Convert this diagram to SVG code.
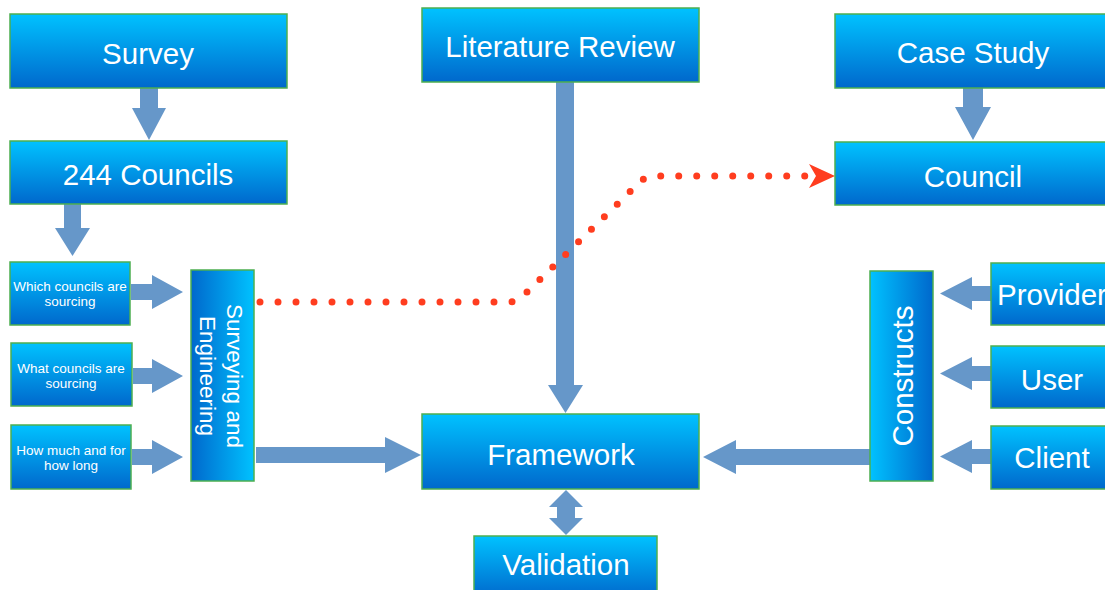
<svg xmlns="http://www.w3.org/2000/svg" width="1105" height="590" viewBox="0 0 1105 590">
<defs>
<linearGradient id="gv" x1="0" y1="0" x2="0" y2="1"><stop offset="0" stop-color="#00c2ff"/><stop offset="1" stop-color="#0068cc"/></linearGradient>
<linearGradient id="gl" x1="1" y1="0" x2="0" y2="0"><stop offset="0" stop-color="#00c2ff"/><stop offset="1" stop-color="#0068cc"/></linearGradient>
<linearGradient id="gr" x1="0" y1="0" x2="1" y2="0"><stop offset="0" stop-color="#00c2ff"/><stop offset="1" stop-color="#0068cc"/></linearGradient>
<marker id="redhead" viewBox="0 0 26 24" refX="26" refY="12" markerWidth="26" markerHeight="24" markerUnits="userSpaceOnUse" orient="auto"><polygon points="26,12 0,0 7,12 0,24" fill="#ff3d1f"/></marker>
</defs>
<style>
.box{fill:url(#gv);stroke:#4caf50;stroke-width:1.5}
.boxl{fill:url(#gl);stroke:#4caf50;stroke-width:1.5}
.boxr{fill:url(#gr);stroke:#4caf50;stroke-width:1.5}
.t{fill:#fff;font-family:"Liberation Sans",Arial,sans-serif;font-size:29.5px;text-anchor:middle}
.ts{fill:#fff;font-family:"Liberation Sans",Arial,sans-serif;font-size:13.5px;text-anchor:middle}
.tm{fill:#fff;font-family:"Liberation Sans",Arial,sans-serif;font-size:22.5px;text-anchor:middle}
.arr{fill:#6697c9}
.dot{fill:none;stroke:#ff3d1f;stroke-width:7;stroke-linecap:round;stroke-dasharray:0 18}
</style>

<g id="connectors">
<polygon class="arr" points="140,88 158,88 158,108 166,108 149,140 132,108 140,108"/>
<polygon class="arr" points="64,204 81,204 81,228 90,228 72.5,256 55,228 64,228"/>
<polygon class="arr" points="131,284 152,284 152,275 183,292 152,309 152,300 131,300"/>
<polygon class="arr" points="133,368 152,368 152,359 183,376 152,393 152,384 133,384"/>
<polygon class="arr" points="132,449 152,449 152,440 183,457 152,474 152,465 132,465"/>
<polygon class="arr" points="256,447 385,447 385,437 421,455 385,473 385,463 256,463"/>
<polygon class="arr" points="556,82 574,82 574,385 583,385 565.5,413 548,385 556,385"/>
<polygon class="arr" points="566,490 583,507 575,507 575,518 583,518 566,535 549,518 557,518 557,507 549,507"/>
<polygon class="arr" points="963,88 983,88 983,107 991,107 973,140 955,107 963,107"/>
<polygon class="arr" points="992,286 972,286 972,277 940,293.5 972,310 972,301 992,301"/>
<polygon class="arr" points="992,366 972,366 972,357 940,373.5 972,390 972,381 992,381"/>
<polygon class="arr" points="992,449 972,449 972,440 940,456.5 972,473 972,464 992,464"/>
<polygon class="arr" points="870,449 736,449 736,440 703,457 736,474 736,465 870,465"/>
<path class="dot" d="M260,302 H508 Q517,302 524,295 L640,182 Q646,176 655,176 H812"/>
<path d="M805,176 H835" fill="none" stroke="none" marker-end="url(#redhead)"/>
</g>

<g id="survey"><rect class="box" x="10" y="14" width="277" height="74"/><text class="t" x="148" y="64">Survey</text></g>
<g id="councils244"><rect class="box" x="10" y="141" width="277" height="63"/><text class="t" x="148" y="185">244 Councils</text></g>
<g id="literature"><rect class="box" x="422" y="8" width="277" height="74"/><text class="t" x="560" y="57">Literature Review</text></g>
<g id="casestudy"><rect class="box" x="835" y="14" width="277" height="74"/><text class="t" x="973" y="63">Case Study</text></g>
<g id="council"><rect class="box" x="835" y="142" width="277" height="63"/><text class="t" x="973" y="187">Council</text></g>
<g id="which"><rect class="box" x="10" y="262" width="120" height="63"/><text class="ts" x="70" y="291">Which councils are</text><text class="ts" x="70" y="306">sourcing</text></g>
<g id="what"><rect class="box" x="11" y="343" width="121" height="63"/><text class="ts" x="71" y="373">What councils are</text><text class="ts" x="71" y="388">sourcing</text></g>
<g id="howmuch"><rect class="box" x="11" y="425" width="120" height="64"/><text class="ts" x="71" y="455">How much and for</text><text class="ts" x="71" y="470">how long</text></g>
<g id="surveying"><rect class="boxl" x="191" y="270" width="63" height="211"/><text class="tm" transform="translate(227,376) rotate(90)">Surveying and</text><text class="tm" transform="translate(200,376) rotate(90)">Engineering</text></g>
<g id="framework"><rect class="box" x="422" y="414" width="277" height="75"/><text class="t" x="561" y="465">Framework</text></g>
<g id="validation"><rect class="box" x="474" y="536" width="183" height="62"/><text class="t" x="566" y="575">Validation</text></g>
<g id="constructs"><rect class="boxr" x="870" y="271" width="63" height="210"/><text class="t" transform="translate(913,376) rotate(-90)">Constructs</text></g>
<g id="provider"><rect class="box" x="991" y="263" width="122" height="62"/><text class="t" x="1052" y="305">Provider</text></g>
<g id="user"><rect class="box" x="991" y="346" width="122" height="62"/><text class="t" x="1052" y="390">User</text></g>
<g id="client"><rect class="box" x="991" y="426" width="122" height="63"/><text class="t" x="1052" y="468">Client</text></g>
</svg>
